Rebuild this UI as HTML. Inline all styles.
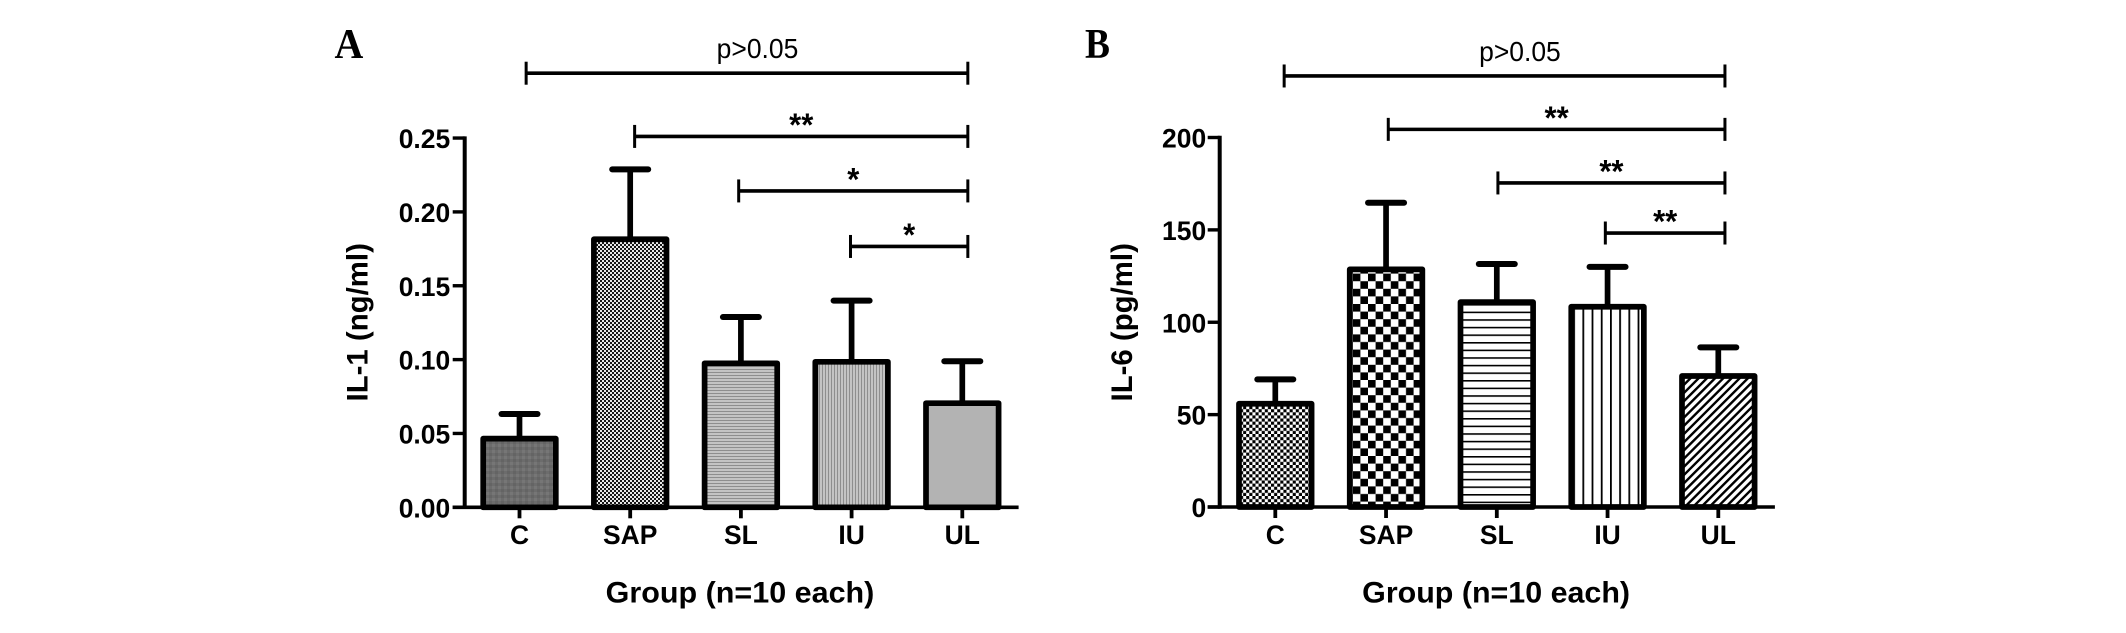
<!DOCTYPE html>
<html lang="en">
<head>
<meta charset="utf-8">
<title>IL-1 and IL-6 by group</title>
<style>
html,body{margin:0;padding:0;background:#fff;width:2126px;height:633px;overflow:hidden}
svg{display:block}
text{font-family:"Liberation Sans",sans-serif;fill:#000}
.serif{font-family:"Liberation Serif",serif;font-weight:bold}
.b{font-weight:bold}
</style>
</head>
<body>
<svg id="fig" xmlns="http://www.w3.org/2000/svg" width="2126" height="633" viewBox="0 0 2126 633">
  <defs>
    <pattern id="pA0" patternUnits="userSpaceOnUse" width="6" height="6"><rect width="6" height="6" fill="#6c6c6c"/><rect width="3" height="3" fill="#767676"/><rect x="3" y="3" width="3" height="3" fill="#646464"/></pattern>
    <pattern id="pA1" patternUnits="userSpaceOnUse" width="4" height="4"><rect width="4" height="4" fill="#e8e8e8"/><rect width="2" height="2" fill="#161616"/><rect x="2" y="2" width="2" height="2" fill="#161616"/></pattern>
    <pattern id="pA2" patternUnits="userSpaceOnUse" width="3" height="3"><rect width="3" height="3" fill="#c4c4c4"/><rect width="3" height="1" fill="#8e8e8e"/></pattern>
    <pattern id="pA3" patternUnits="userSpaceOnUse" width="3" height="3"><rect width="3" height="3" fill="#c4c4c4"/><rect width="1" height="3" fill="#8e8e8e"/></pattern>
    <pattern id="pA4" patternUnits="userSpaceOnUse" width="3" height="3"><rect width="3" height="3" fill="#b3b3b3"/></pattern>
    <pattern id="pB0" patternUnits="userSpaceOnUse" width="6.2" height="6.2"><rect width="6.2" height="6.2" fill="#fff"/><rect width="3.1" height="3.1" fill="#000"/><rect x="3.1" y="3.1" width="3.1" height="3.1" fill="#000"/></pattern>
    <pattern id="pB1" patternUnits="userSpaceOnUse" width="15.2" height="15.2"><rect width="15.2" height="15.2" fill="#fff"/><rect width="7.6" height="7.6" fill="#000"/><rect x="7.6" y="7.6" width="7.6" height="7.6" fill="#000"/></pattern>
    <pattern id="pB2" patternUnits="userSpaceOnUse" width="7.6" height="7.6"><rect width="7.6" height="7.6" fill="#fff"/><rect width="7.6" height="1.6" fill="#000"/></pattern>
    <pattern id="pB3" patternUnits="userSpaceOnUse" width="9.2" height="9.2"><rect width="9.2" height="9.2" fill="#fff"/><rect width="1.8" height="9.2" fill="#000"/></pattern>
    <pattern id="pB4" patternUnits="userSpaceOnUse" width="5.8" height="5.8" patternTransform="rotate(45)"><rect width="5.8" height="5.8" fill="#fff"/><rect width="2.4" height="5.8" fill="#000"/></pattern>
  </defs>

  <text class="serif" font-size="42" transform="translate(334.5 58) scale(.95 1)">A</text>
  <text class="serif" font-size="42" transform="translate(1085 58) scale(.89 1)">B</text>

  <text class="b" font-size="30" text-anchor="middle" transform="translate(367.5 322.3) rotate(-90) scale(.98 1)">IL-1 (ng/ml)</text>
  <text class="b" font-size="30" text-anchor="middle" transform="translate(1132 322.3) rotate(-90) scale(.98 1)">IL-6 (pg/ml)</text>

  <text class="b" font-size="30" text-anchor="middle" transform="translate(740 602.7) scale(1.017 1)">Group (n=10 each)</text>
  <text class="b" font-size="30" text-anchor="middle" transform="translate(1496.1 602.7) scale(1.014 1)">Group (n=10 each)</text>
</svg>
<script>
// ---- data ----
var categories = ['C', 'SAP', 'SL', 'IU', 'UL'];

var meansA = [0.0465, 0.1815, 0.0975, 0.0985, 0.0705];
var upperA = [0.0632, 0.2288, 0.1288, 0.1399, 0.0989];
var ticksA = [0, 0.05, 0.10, 0.15, 0.20, 0.25];
var tickLabelsA = ['0.00', '0.05', '0.10', '0.15', '0.20', '0.25'];
var bracketFromA = [0.06, 1.04, 1.98, 2.99];
var bracketToA = [4.05, 4.05, 4.05, 4.05];
var bracketLevelA = [0.2939, 0.2511, 0.2142, 0.1766];
var bracketTextA = ['p>0.05', '**', '*', '*'];

var meansB = [55.9, 128.6, 110.9, 108.4, 70.9];
var upperB = [69.1, 164.7, 131.5, 130, 86.4];
var ticksB = [0, 50, 100, 150, 200];
var tickLabelsB = ['0', '50', '100', '150', '200'];
var bracketFromB = [0.08, 1.02, 2.01, 2.98];
var bracketToB = [4.06, 4.06, 4.06, 4.06];
var bracketLevelB = [233.3, 204.4, 175.4, 148.3];
var bracketTextB = ['p>0.05', '**', '**', '**'];

// ---- drawing ----
var svg = document.getElementById('fig');
var NS = 'http://www.w3.org/2000/svg';

function mk(tag, attrs, txt) {
  var el = document.createElementNS(NS, tag);
  for (var k in attrs) { el.setAttribute(k, attrs[k]); }
  if (txt !== undefined) { el.textContent = txt; }
  svg.appendChild(el);
  return el;
}

function line(x1, y1, x2, y2, w, cap) {
  return mk('line', {x1: x1, y1: y1, x2: x2, y2: y2, stroke: '#000', 'stroke-width': w, 'stroke-linecap': cap || 'butt'});
}

function drawPanel(p) {
  var yScale = function (v) { return p.y0 - v * p.perUnit; };
  var xScale = function (i) { return p.x0 + i * p.step; };
  var id = p.id;

  categories.forEach(function (cat, i) {
    var cx = xScale(i);
    var top = yScale(p.means[i]);
    var capY = yScale(p.upper[i]);

    var stem = line(cx, capY, cx, top, 5.7);
    
    

    var cap = line(cx - 18, capY, cx + 18, capY, 6, 'round');
    
    

    var bar = mk('rect', {
      x: cx - p.barW / 2, y: top, width: p.barW, height: p.y0 - top,
      fill: 'url(#' + p.patternPrefix + i + ')', stroke: '#000', 'stroke-width': 5.7, 'stroke-linejoin': 'round'
    });
    
    

    var tick = line(cx, p.y0, cx, p.y0 + 11, 3.8);
    
    

    var label = mk('text', {
      'class': 'b', 'font-size': 27, 'text-anchor': 'middle',
      transform: 'translate(' + cx + ' 544) scale(.98 1)'
    }, cat);
    
    
  });

  var yAxis = line(p.axisX, yScale(p.ticks[p.ticks.length - 1]) - 1.7, p.axisX, p.y0 + 1.7, 4);
  
  

  var xAxis = line(p.axisX - 12, p.y0, p.axisEnd, p.y0, 3.6);
  
  

  p.ticks.forEach(function (v, i) {
    var ty = yScale(v);
    var t = line(p.axisX - 12, ty, p.axisX, ty, 3.4);
    
    

    var tl = mk('text', {
      'class': 'b', 'font-size': 27, 'text-anchor': 'end',
      transform: 'translate(' + (p.axisX - p.labelGap) + ' ' + (ty + 10) + ') scale(.98 1)'
    }, p.tickLabels[i]);
    
    
  });

  p.brFrom.forEach(function (from, i) {
    var x1 = xScale(from);
    var x2 = xScale(p.brTo[i]);
    var by = yScale(p.brLevel[i]);
    var txt = p.brText[i];

    var h = line(x1, by, x2, by, 3.6);
    
    

    var l = line(x1, by - 11.5, x1, by + 11.5, 3);
    
    

    var r = line(x2, by - 11.5, x2, by + 11.5, 3);
    
    

    var isP = txt.charAt(0) === 'p';
    var tx = (x1 + x2) / 2 + (isP ? p.pDx : 0);
    var tyy = isP ? by - 15 : by - 0.5;
    var sig = mk('text', {
      'font-size': isP ? 28 : 32, 'font-weight': isP ? 'normal' : 'bold', 'text-anchor': 'middle',
      transform: 'translate(' + tx + ' ' + tyy + ') scale(' + (isP ? 0.945 : 0.97) + ' 1)'
    }, txt);
    
    
  });
}

drawPanel({
  id: 'panel-a', patternPrefix: 'pA', y0: 507.3, perUnit: 1477, x0: 519.5, step: 110.7, barW: 72.6,
  axisX: 464.7, axisEnd: 1018.6, pDx: 10.5, labelGap: 14.5,
  means: meansA, upper: upperA, ticks: ticksA, tickLabels: tickLabelsA,
  brFrom: bracketFromA, brTo: bracketToA, brLevel: bracketLevelA, brText: bracketTextA
});

drawPanel({
  id: 'panel-b', patternPrefix: 'pB', y0: 507, perUnit: 1.8475, x0: 1275.3, step: 110.75, barW: 72.6,
  axisX: 1219.7, axisEnd: 1774.9, pDx: 15.4, labelGap: 13.5,
  means: meansB, upper: upperB, ticks: ticksB, tickLabels: tickLabelsB,
  brFrom: bracketFromB, brTo: bracketToB, brLevel: bracketLevelB, brText: bracketTextB
});
</script>
</body>
</html>
